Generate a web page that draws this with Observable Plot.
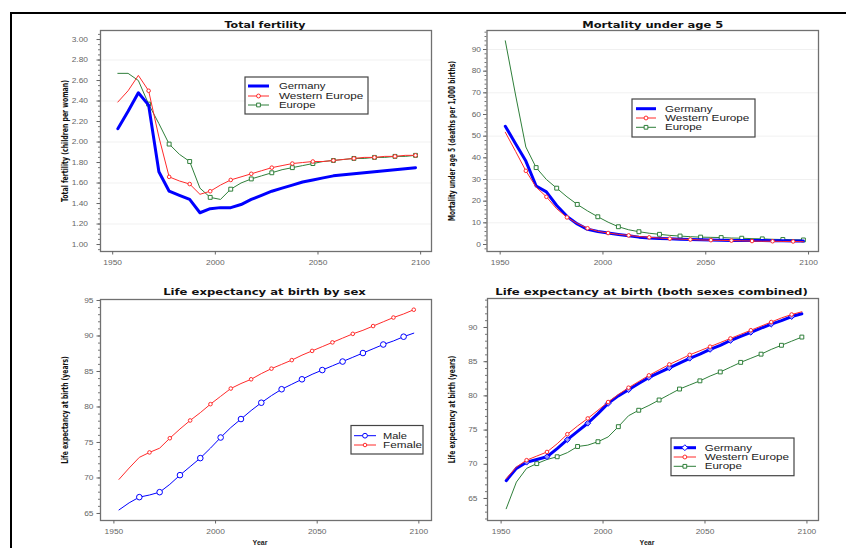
<!DOCTYPE html>
<html><head><meta charset="utf-8">
<script src="https://cdn.jsdelivr.net/npm/d3@7"></script>
<script src="https://cdn.jsdelivr.net/npm/@observablehq/plot@0.6"></script>
<style>
html,body{margin:0;padding:0;background:#fff;}
#root{position:relative;width:846px;height:548px;overflow:hidden;background:#fff;}
#root svg{position:absolute;}
#border{position:absolute;left:10px;top:12px;width:840px;height:540px;border-top:2px solid #000;border-left:2px solid #000;}
</style></head>
<body><div id="root"></div>
<script>
// ---------- data ----------
const years = [1952.5,1957.5,1962.5,1967.5,1972.5,1977.5,1982.5,1987.5,1992.5,1997.5,
  2002.5,2007.5,2012.5,2017.5,2022.5,2027.5,2032.5,2037.5,2042.5,2047.5,
  2052.5,2057.5,2062.5,2067.5,2072.5,2077.5,2082.5,2087.5,2092.5,2097.5];

const tfrGermany = [2.13,2.30,2.48,2.36,1.71,1.52,1.48,1.44,1.31,1.35,1.36,1.36,1.39,1.44,1.48,1.52,1.55,1.58,1.61,1.63,1.65,1.67,1.68,1.69,1.70,1.71,1.72,1.73,1.74,1.75];
const tfrWestern = [2.39,2.50,2.65,2.50,2.05,1.66,1.62,1.59,1.49,1.52,1.58,1.63,1.66,1.69,1.72,1.75,1.77,1.79,1.80,1.81,1.81,1.82,1.83,1.84,1.85,1.85,1.86,1.86,1.87,1.87];
const tfrEurope  = [2.67,2.67,2.60,2.37,2.18,1.98,1.88,1.81,1.55,1.46,1.44,1.54,1.60,1.64,1.67,1.70,1.73,1.75,1.77,1.79,1.81,1.82,1.83,1.84,1.84,1.85,1.85,1.86,1.86,1.87];

const u5Germany = [54.6,46.5,38.5,27.0,24.3,18.0,13.0,9.5,7.0,6.0,5.3,4.6,4.0,3.4,3.0,2.8,2.6,2.4,2.3,2.2,2.1,2.0,1.9,1.9,1.8,1.8,1.7,1.7,1.6,1.6];
const u5Western = [51.8,43.0,34.0,26.5,22.0,16.5,12.5,9.7,7.5,6.1,5.3,4.7,4.2,3.7,3.3,3.0,2.7,2.5,2.3,2.1,2.0,1.9,1.8,1.7,1.6,1.5,1.5,1.4,1.4,1.3];
const u5Europe  = [94,69,45,35.5,30,26,22,18.5,15.5,12.8,10.3,8.2,6.8,5.9,5.2,4.7,4.2,3.9,3.6,3.4,3.3,3.2,3.0,2.9,2.7,2.6,2.4,2.3,2.2,2.1];

const leMale   = [65.5,66.5,67.3,67.6,68.0,69.1,70.4,71.6,72.8,74.2,75.7,77.1,78.3,79.5,80.6,81.6,82.5,83.2,83.9,84.6,85.2,85.8,86.4,87.0,87.6,88.2,88.8,89.3,89.9,90.4];
const leFemale = [69.8,71.4,72.9,73.6,74.2,75.6,76.9,78.1,79.2,80.4,81.5,82.6,83.3,83.9,84.7,85.4,86.0,86.6,87.3,87.9,88.5,89.1,89.7,90.3,90.8,91.4,92.0,92.6,93.1,93.7];

const leGermany = [67.6,69.4,70.3,70.7,71.1,72.3,73.6,74.8,76.0,77.4,78.9,80.0,80.9,81.8,82.7,83.4,84.1,84.8,85.5,86.1,86.8,87.4,88.1,88.7,89.3,89.9,90.5,91.0,91.6,92.0];
const leWestern = [67.9,69.6,70.6,71.2,71.8,73.0,74.4,75.6,76.7,77.9,79.1,80.2,81.2,82.1,83.0,83.8,84.6,85.3,86.0,86.6,87.2,87.8,88.4,89.0,89.6,90.2,90.8,91.4,91.9,92.3];
const leEurope  = [63.5,67.4,69.4,70.1,70.7,71.1,71.7,72.6,72.8,73.3,74.0,75.5,77.1,77.9,78.6,79.4,80.2,81.0,81.6,82.2,82.9,83.5,84.2,84.9,85.5,86.1,86.8,87.4,88.0,88.6];

const xTicks = [1950, 2000, 2050, 2100];
const tfrTicks = [1.0,1.2,1.4,1.6,1.8,2.0,2.2,2.4,2.6,2.8,3.0];
const u5Ticks = [0,10,20,30,40,50,60,70,80,90];
const leSexTicks = [65,70,75,80,85,90,95];
const leBothTicks = [65,70,75,80,85,90];

const titles = ["Total fertility","Mortality under age 5","Life expectancy at birth by sex","Life expectancy at birth (both sexes combined)"];
const yLabels = ["Total fertility (children per woman)","Mortality under age 5 (deaths per 1,000 births)","Life expectancy at birth (years)","Life expectancy at birth (years)"];
const regionNames = ["Germany","Western Europe","Europe"];
const sexNames = ["Male","Female"];
const xLabel = "Year";

// ---------- style ----------
const BLUE = "#0000ff", RED = "#ff2b2b", GREEN = "#2f7f3a";
const STRETCH = 1.29;

function series(vals){ return years.map((y,i)=>({year:y, v:vals[i], i})); }
function odd(arr){ return arr.filter(d=>d.i%2===1 && d.i>=3); }
function even(arr){ return arr.filter(d=>d.i%2===0 && d.i>0); }
function fit(el, w){ el.setAttribute("textLength", w); el.setAttribute("lengthAdjust","spacingAndGlyphs"); }

const root = document.getElementById("root");

function makePanel(c){
  const minor = d3.range(c.minor[0], c.minor[1] + c.minor[2]/2, c.minor[2]);
  const svg = Plot.plot({
    width: c.width, height: 274,
    marginTop: c.mt, marginRight: c.mr, marginBottom: c.mb, marginLeft: c.ml,
    style: {background:"transparent", fontFamily:"'Liberation Sans', Arial, sans-serif", fontSize:"6.5px", overflow:"visible"},
    x: {domain: c.xDomain, label: null},
    y: {domain: c.yDomain, label: null},
    marks: [
      c.grid ? Plot.gridY(c.grid, {stroke:"#000", strokeOpacity:0.06}) : null,
      Plot.frame({stroke:"#707070", strokeWidth:1.3}),
      Plot.axisY(minor, {tickSize:2, tickFormat:()=>"", color:"#777", label:null}),
      Plot.axisY(c.yTicks, {tickSize:3.5, tickPadding:c.tickPad, tickFormat:c.yFmt, color:"#666", fontSize:6.5, label:null}),
      Plot.axisX(xTicks, {tickSize:3.5, tickPadding:5, tickFormat:d=>String(d), color:"#666", fontSize:6.5, label:null}),
      ...c.marks,
      Plot.text([c.title], {text:d=>d, frameAnchor:"top", dx:c.titleDx, dy:c.titleDy, lineAnchor:"middle",
        fontWeight:"bold", fontSize:9.5, fontFamily:"'DejaVu Sans', sans-serif", fill:"#111"}),
      Plot.text([c.ylabel], {text:d=>d, frameAnchor:"left", dx:-35, rotate:-90, textAnchor:"middle", lineAnchor:"middle",
        fontWeight:"bold", fontSize:8.5, fontFamily:"'Liberation Sans Narrow', 'DejaVu Sans Condensed', sans-serif", fill:"#111"}),
      c.year ? Plot.text([xLabel], {text:d=>d, frameAnchor:"bottom", dx:-6, dy:22, lineAnchor:"middle",
        fontWeight:"bold", fontSize:7, fill:"#222"}) : null
    ]
  });
  svg.style.left = c.left + "px";
  svg.style.top = c.top + "px";
  root.appendChild(svg);
  // stretch tick labels like the reference
  svg.querySelectorAll('g[aria-label="y-axis tick label"] text, g[aria-label="x-axis tick label"] text').forEach(t=>{
    const L = t.getComputedTextLength(); if (L > 0) fit(t, L*STRETCH);
  });
  svg.querySelectorAll("text").forEach(t=>{
    if (t.textContent === c.title) fit(t, c.titleW);
    if (t.textContent === c.ylabel) fit(t, c.ylabelW);
  });
  // legend
  const L = c.legend;
  const g = d3.select(svg).append("g").attr("text-anchor","start");
  g.append("rect").attr("x",L.x).attr("y",L.y).attr("width",L.w).attr("height",L.h)
    .attr("fill","white").attr("stroke","#444").attr("stroke-width",1.2);
  L.items.forEach((it,i)=>{
    const y = L.rows[i];
    g.append("line").attr("x1",L.x0).attr("x2",L.x1).attr("y1",y).attr("y2",y)
      .attr("stroke",it.color).attr("stroke-width",it.sw);
    if (it.symbol) g.append("path").attr("d", d3.symbol(it.symbol, it.size)())
      .attr("transform",`translate(${(L.x0+L.x1)/2},${y})`).attr("fill","white").attr("stroke",it.color).attr("stroke-width",1);
    const t = g.append("text").attr("x",L.tx).attr("y",y).attr("dy","0.36em")
      .attr("text-anchor","start").attr("font-size",8.7).attr("fill","#222").text(it.label);
    fit(t.node(), it.w);
  });
  return svg;
}

// ---------- panel 1: Total fertility ----------
makePanel({
  left:0, top:0, width:440, mt:30, mr:9, mb:23, ml:100,
  xDomain:[1944.06,2105.29], yDomain:[0.932,3.088],
  yTicks:tfrTicks, yFmt:d=>d.toFixed(2), minor:[0.95,3.05,0.05], grid:[1.2,1.6,2.0,2.4,2.8], tickPad:9,
  title:titles[0], titleW:81, titleDx:-1, titleDy:-6,
  ylabel:yLabels[0], ylabelW:122,
  marks:[
    Plot.line(series(tfrEurope), {x:"year", y:"v", stroke:GREEN, strokeWidth:1}),
    Plot.dot(odd(series(tfrEurope)), {x:"year", y:"v", symbol:"square", r:2.2, stroke:GREEN, fill:"white", strokeWidth:1}),
    Plot.line(series(tfrWestern), {x:"year", y:"v", stroke:RED, strokeWidth:1}),
    Plot.dot(odd(series(tfrWestern)), {x:"year", y:"v", r:1.8, stroke:RED, fill:"white", strokeWidth:1}),
    Plot.line(series(tfrGermany), {x:"year", y:"v", stroke:BLUE, strokeWidth:3})
  ],
  legend:{x:245, y:77, w:123, h:37, rows:[86,96,105], x0:248, x1:269, tx:279,
    items:[
      {label:regionNames[0], color:BLUE, sw:3, w:46.5},
      {label:regionNames[1], color:RED, sw:1, symbol:d3.symbolCircle, size:12, w:84.2},
      {label:regionNames[2], color:GREEN, sw:1, symbol:d3.symbolSquare, size:14, w:36.5}
    ]}
});

// ---------- panel 2: Mortality under age 5 ----------
makePanel({
  left:440, top:0, width:406, mt:30, mr:28, mb:23, ml:46.5,
  xDomain:[1943.6,2104.84], yDomain:[-3.23,98.77],
  yTicks:u5Ticks, yFmt:d=>String(d), minor:[-2,98,2], grid:[10,30,50,70,90], tickPad:2.5,
  title:titles[1], titleW:141, titleDx:0, titleDy:-6,
  ylabel:yLabels[1], ylabelW:160,
  marks:[
    Plot.line(series(u5Europe), {x:"year", y:"v", stroke:GREEN, strokeWidth:1}),
    Plot.dot(odd(series(u5Europe)), {x:"year", y:"v", symbol:"square", r:2.2, stroke:GREEN, fill:"white", strokeWidth:1}),
    Plot.line(series(u5Germany), {x:"year", y:"v", stroke:BLUE, strokeWidth:3}),
    Plot.line(series(u5Western), {x:"year", y:"v", stroke:RED, strokeWidth:1}),
    Plot.dot(even(series(u5Western)), {x:"year", y:"v", r:1.8, stroke:RED, fill:"white", strokeWidth:1})
  ],
  legend:{x:192, y:99, w:123, h:38, rows:[108.7,118,127.3], x0:196, x1:216, tx:225,
    items:[
      {label:regionNames[0], color:BLUE, sw:3, w:47.5},
      {label:regionNames[1], color:RED, sw:1, symbol:d3.symbolCircle, size:12, w:84.3},
      {label:regionNames[2], color:GREEN, sw:1, symbol:d3.symbolSquare, size:14, w:37}
    ]}
});

// ---------- panel 3: Life expectancy by sex ----------
makePanel({
  left:0, top:274, width:440, mt:25, mr:9, mb:28, ml:100,
  xDomain:[1943.41,2106.22], yDomain:[64.01,95.14],
  yTicks:leSexTicks, yFmt:d=>String(d), minor:[65,95,1], grid:null, tickPad:3.5,
  title:titles[2], titleW:202.7, titleDx:-1.5, titleDy:-8,
  ylabel:yLabels[2], ylabelW:107.6, year:true,
  marks:[
    Plot.line(series(leMale), {x:"year", y:"v", stroke:BLUE, strokeWidth:1}),
    Plot.dot(even(series(leMale)), {x:"year", y:"v", r:2.8, stroke:BLUE, fill:"white", strokeWidth:1}),
    Plot.line(series(leFemale), {x:"year", y:"v", stroke:RED, strokeWidth:1}),
    Plot.dot(odd(series(leFemale)), {x:"year", y:"v", r:1.8, stroke:RED, fill:"white", strokeWidth:1})
  ],
  legend:{x:351, y:151.5, w:72, h:28.5, rows:[161.7,171], x0:354, x1:376, tx:383,
    items:[
      {label:sexNames[0], color:BLUE, sw:1, symbol:d3.symbolCircle, size:18, w:24},
      {label:sexNames[1], color:RED, sw:1, symbol:d3.symbolCircle, size:10, w:39}
    ]}
});

// ---------- panel 4: Life expectancy both sexes ----------
makePanel({
  left:440, top:274, width:406, mt:24, mr:28, mb:28, ml:47,
  xDomain:[1943.33,2105.67], yDomain:[61.78,94.24],
  yTicks:leBothTicks, yFmt:d=>String(d), minor:[62,94,1], grid:null, tickPad:6.5,
  title:titles[3], titleW:312.7, titleDx:-1.5, titleDy:-7,
  ylabel:yLabels[3], ylabelW:107.6, year:true,
  marks:[
    Plot.line(series(leEurope), {x:"year", y:"v", stroke:GREEN, strokeWidth:1}),
    Plot.dot(odd(series(leEurope)), {x:"year", y:"v", symbol:"square", r:2.2, stroke:GREEN, fill:"white", strokeWidth:1}),
    Plot.line(series(leGermany), {x:"year", y:"v", stroke:BLUE, strokeWidth:3}),
    Plot.dot(even(series(leGermany)), {x:"year", y:"v", symbol:"diamond2", r:2.6, stroke:BLUE, fill:"#9090ff", strokeWidth:1}),
    Plot.line(series(leWestern), {x:"year", y:"v", stroke:RED, strokeWidth:1}),
    Plot.dot(even(series(leWestern)), {x:"year", y:"v", r:1.8, stroke:RED, fill:"white", strokeWidth:1})
  ],
  legend:{x:231, y:164, w:123, h:37.7, rows:[173.7,183,192.3], x0:233.7, x1:256, tx:264.7,
    items:[
      {label:regionNames[0], color:BLUE, sw:3, symbol:d3.symbolDiamond2, size:22, w:47.3},
      {label:regionNames[1], color:RED, sw:1, symbol:d3.symbolCircle, size:12, w:84.3},
      {label:regionNames[2], color:GREEN, sw:1, symbol:d3.symbolSquare, size:14, w:37.3}
    ]}
});

const border = document.createElement("div");
border.id = "border";
root.appendChild(border);
</script>
</body></html>
